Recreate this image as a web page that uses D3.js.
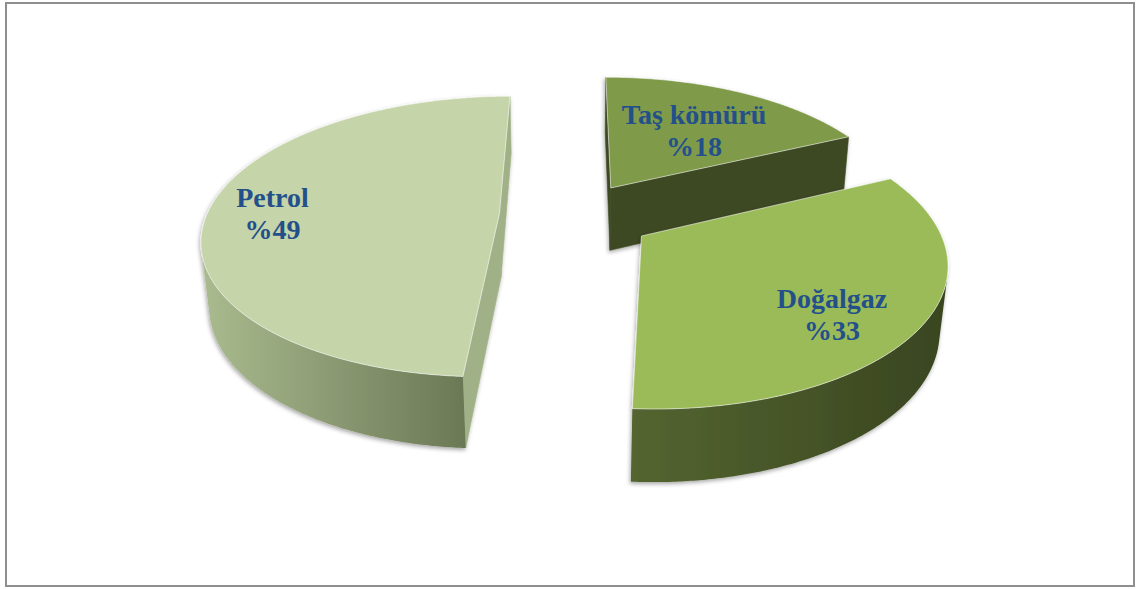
<!DOCTYPE html>
<html><head><meta charset="utf-8">
<script src="https://cdn.jsdelivr.net/npm/d3@7"></script>
<style>html,body{margin:0;padding:0;background:#fff;} svg{display:block;}</style>
</head><body>
<svg id="chart" width="1136" height="589"></svg>
<script>
// Energy sources and their shares (%)
const categories = ["Taş kömürü", "Doğalgaz", "Petrol"];
const shares = [18, 33, 49];
const percentLabels = ["%18", "%33", "%49"];

// Per-slice appearance
const topColors = ["#7f9a48", "#9bbb59", "#c5d4a9"];
const wallColors = [["#4a5a28", "#333f1a"], ["#546530", "#39451f"], ["#aabb8f", "#6b7855"]];
const cutColors = ["#3e4a22", "#56672f", "#a1b187"];
const explodeBy = [0.239, 0.27, 0.257];
// label anchor on each top face: [angle shift from mid-angle (deg), radius]
const labelPlace = [[1.4, 0.587], [7.2, 0.751], [-1.6, 0.777]];

const cam = { cx: 574.5, cy: 214.7, f: 1580, D: 5.4, tilt: 27.9 * Math.PI / 180 };
const thickness = 0.252;
const sinT = Math.sin(cam.tilt), cosT = Math.cos(cam.tilt);
const camPos = [0, cam.D * sinT, -cam.D * cosT];

function project(p) {
  const [x, y, z] = p;
  const den = cam.D + z * cosT - y * sinT;
  return [cam.cx + cam.f * x / den, cam.cy - cam.f * (y * cosT + z * sinT) / den];
}
function facing(n, p) {
  return n[0] * (camPos[0] - p[0]) + n[1] * (camPos[1] - p[1]) + n[2] * (camPos[2] - p[2]) > 0;
}

const svg = d3.select("#chart");
const defs = svg.append("defs");
const shadow = defs.append("filter").attr("id", "softShadow")
  .attr("x", "-10%").attr("y", "-10%").attr("width", "120%").attr("height", "120%");
shadow.append("feDropShadow").attr("dx", -1).attr("dy", 2).attr("stdDeviation", 2.2)
  .attr("flood-color", "#000").attr("flood-opacity", 0.35);

// outer frame
svg.append("rect").attr("x", 6).attr("y", 3).attr("width", 1128).attr("height", 583)
  .attr("fill", "#fff").attr("stroke", "#8e8e8e").attr("stroke-width", 2);

const pie = d3.pie().sort(null).value(d => d);
const arcs = pie(shares);
const line = d3.line();

const slices = arcs.map((a, i) => {
  const mid = (a.startAngle + a.endAngle) / 2;
  const off = [explodeBy[i] * Math.sin(mid), 0, explodeBy[i] * Math.cos(mid)];
  return { i, a0: a.startAngle, a1: a.endAngle, mid, off };
}).sort((p, q) => q.off[2] - p.off[2]);

const rim = (s, t, y) => [s.off[0] + Math.sin(t), y, s.off[2] + Math.cos(t)];
const step = Math.PI / 360;

slices.forEach(s => {
  const g = svg.append("g").attr("filter", "url(#softShadow)");
  const thetas = d3.range(s.a0, s.a1, step).concat([s.a1]);
  const cTop = [s.off[0], 0, s.off[2]];
  const cBot = [s.off[0], -thickness, s.off[2]];

  // radial cut faces
  [[s.a0, [-Math.cos(s.a0), 0, Math.sin(s.a0)]], [s.a1, [Math.cos(s.a1), 0, -Math.sin(s.a1)]]].forEach(([t, n]) => {
    const pm = rim(s, t, -thickness / 2);
    const mp = [(pm[0] + cTop[0]) / 2, pm[1], (pm[2] + cTop[2]) / 2];
    if (!facing(n, mp)) return;
    const quad = [cTop, rim(s, t, 0), rim(s, t, -thickness), cBot].map(project);
    g.append("path").attr("d", line(quad) + "Z").attr("fill", cutColors[s.i])
      .attr("stroke", cutColors[s.i]).attr("stroke-width", 0.6);
  });

  // outer curved wall
  const vis = thetas.filter(t => facing([Math.sin(t), 0, Math.cos(t)], rim(s, t, -thickness / 2)));
  if (vis.length > 1) {
    const topPts = vis.map(t => project(rim(s, t, 0)));
    const botPts = vis.map(t => project(rim(s, t, -thickness))).reverse();
    const pts = topPts.concat(botPts);
    const xs = d3.extent(pts, p => p[0]);
    const gid = "wall" + s.i;
    const grad = defs.append("linearGradient").attr("id", gid).attr("gradientUnits", "userSpaceOnUse")
      .attr("x1", xs[0]).attr("x2", xs[1]).attr("y1", 0).attr("y2", 0);
    grad.append("stop").attr("offset", 0).attr("stop-color", wallColors[s.i][0]);
    grad.append("stop").attr("offset", 1).attr("stop-color", wallColors[s.i][1]);
    g.append("path").attr("d", line(pts) + "Z").attr("fill", `url(#${gid})`);
  }

  // top face
  const topFace = [cTop].concat(thetas.map(t => rim(s, t, 0))).map(project);
  g.append("path").attr("d", line(topFace) + "Z").attr("fill", topColors[s.i])
    .attr("stroke", "rgba(255,255,255,0.55)").attr("stroke-width", 1).attr("stroke-linejoin", "round");
});

// labels
const labels = svg.append("g")
  .attr("font-family", "'Liberation Serif', 'Times New Roman', serif")
  .attr("font-weight", "bold").attr("font-size", 28).attr("fill", "#23508a")
  .attr("text-anchor", "middle");
slices.forEach(s => {
  const [shift, r] = labelPlace[s.i];
  const ang = s.mid + shift * Math.PI / 180;
  const [lx, ly] = project([s.off[0] + r * Math.sin(ang), 0, s.off[2] + r * Math.cos(ang)]);
  const t = labels.append("text").attr("x", lx).attr("y", ly - 6);
  t.append("tspan").attr("x", lx).text(categories[s.i]);
  t.append("tspan").attr("x", lx).attr("dy", 32).text(percentLabels[s.i]);
});
</script>
</body></html>
